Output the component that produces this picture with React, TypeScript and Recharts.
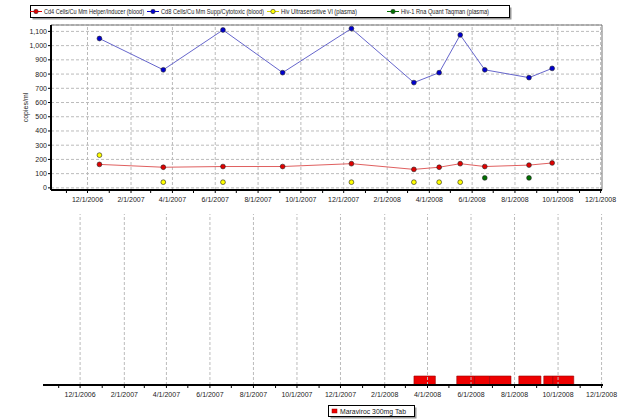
// External imports
import {
    LineChart,
    Line,
    XAxis,
    YAxis,
    CartesianGrid,
    ReferenceLine,
    ReferenceArea,
    ComposedChart,
} from 'recharts';

// Lab visit dates (CD4 / CD8 panels)
const visitDates = [
    '2006-12-18', '2007-03-19', '2007-06-12', '2007-09-05', '2007-12-12',
    '2008-03-10', '2008-04-15', '2008-05-15', '2008-06-19', '2008-08-21', '2008-09-23',
];
const cd4Values = [165, 145, 150, 150, 170, 130, 145, 170, 150, 160, 175];
const cd8Values = [1050, 830, 1110, 810, 1120, 740, 810, 1075, 830, 775, 840];

const vlDates = [
    '2006-12-18', '2007-03-19', '2007-06-12', '2007-12-12', '2008-03-10', '2008-04-15', '2008-05-15',
];
const vlValues = [230, 40, 40, 40, 40, 40, 40];

const taqmanDates = ['2008-06-19', '2008-08-21'];
const taqmanValues = [70, 70];

// Maraviroc 300mg Tab prescriptions
const rxStarts = ['2008-03-13', '2008-05-12', '2008-06-06', '2008-06-27', '2008-08-07', '2008-09-11', '2008-09-24'];
const rxEnds = ['2008-04-12', '2008-06-06', '2008-06-27', '2008-07-27', '2008-09-07', '2008-09-24', '2008-10-23'];

// Axis labels
const tickLabels = [
    '2006-12-01', '2007-02-01', '2007-04-01', '2007-06-01', '2007-08-01', '2007-10-01', '2007-12-01',
    '2008-02-01', '2008-04-01', '2008-06-01', '2008-08-01', '2008-10-01', '2008-12-01',
];
const yTicks = [0, 100, 200, 300, 400, 500, 600, 700, 800, 900, 1000, 1100];

const toTime = (s: string) => Date.parse(s + 'T00:00:00Z');
const X_DOMAIN = [toTime('2006-10-10'), toTime('2008-12-03')];
const Y_DOMAIN = [-15, 1145];

const majorTicks = tickLabels.map(toTime);
const monthTicks: number[] = [];
for (let i = 0; i < 26; i++) {
    const t = Date.UTC(2006, 10 + i, 1);
    if (t > X_DOMAIN[1]) break;
    monthTicks.push(t);
}

const toSeries = (dates: string[], values: number[]) =>
    dates.map((d, i) => ({ t: toTime(d), v: values[i] }));

const cd4Data = toSeries(visitDates, cd4Values);
const cd8Data = toSeries(visitDates, cd8Values);
const vlData = toSeries(vlDates, vlValues);
const taqmanData = toSeries(taqmanDates, taqmanValues);
const rxData = rxStarts.map((s, i) => ({ start: toTime(s), end: toTime(rxEnds[i]), lane: 0 }));

const FONT = '"Liberation Sans", Arial, sans-serif';
const TEXT = '#222';

const fmtDate = (t: number) => {
    const d = new Date(t);
    return `${d.getUTCMonth() + 1}/${d.getUTCDate()}/${d.getUTCFullYear()}`;
};

const DateTick = (props: any) => {
    const { x, y, payload } = props;
    const major = majorTicks.includes(payload.value);
    return (
        <g>
            <line x1={x} x2={x} y1={y} y2={y + 3} stroke="#000" />
            {major && (
                <text x={x} y={y + 11.5} textAnchor="middle" fontSize={7} fill={TEXT} fontFamily={FONT}>
                    {fmtDate(payload.value)}
                </text>
            )}
        </g>
    );
};

const YLabel = ({ viewBox }: any) => {
    const cx = viewBox.x + 4;
    const cy = viewBox.y + viewBox.height / 2;
    return (
        <text
            x={cx}
            y={cy}
            transform={`rotate(-90 ${cx} ${cy})`}
            textAnchor="middle"
            dominantBaseline="central"
            fontSize={7}
            fill={TEXT}
            fontFamily={FONT}
        >
            copies/ml
        </text>
    );
};

const legendItems = [
    { name: 'Cd4 Cells/Cu Mm Helper/Inducer (blood)', color: '#e00000', line: '#e00000', x: 30, w: 100 },
    { name: 'Cd8 Cells/Cu Mm Supp/Cytotoxic (blood)', color: '#0000d0', line: '#0000d0', x: 147, w: 103 },
    { name: 'Hiv Ultrasensitive Vl (plasma)', color: '#ffff00', line: '#d8d800', x: 267, w: 76 },
    { name: 'Hiv-1 Rna Quant Taqman (plasma)', color: '#007000', line: '#007000', x: 387, w: 88 },
];

const dot = (fill: string) => ({ r: 2.4, fill, stroke: '#222', strokeWidth: 0.6 });

const App = () => {
    return (
        <div style={{ position: 'absolute', left: 0, top: 0, width: 618, height: 419, background: '#fff', fontFamily: FONT }}>
            <div style={{ position: 'absolute', left: 0, top: 0 }}>
                <LineChart width={618} height={210} margin={{ top: 25, right: 16, left: 21, bottom: 0 }}>
                    <CartesianGrid vertical={false} strokeDasharray="3 2" stroke="#bbb" />
                    {majorTicks.map((t) => (
                        <ReferenceLine key={t} x={t} stroke="#bbb" strokeDasharray="3 2" />
                    ))}
                    <ReferenceLine y={Y_DOMAIN[1]} stroke="#777" />
                    <ReferenceLine x={X_DOMAIN[1]} stroke="#777" />
                    <XAxis
                        type="number"
                        dataKey="t"
                        domain={X_DOMAIN}
                        ticks={monthTicks}
                        interval={0}
                        allowDataOverflow
                        height={20}
                        tickLine={false}
                        tickSize={0}
                        tickMargin={0}
                        tick={<DateTick />}
                        axisLine={{ stroke: '#000', strokeWidth: 2 }}
                    />
                    <YAxis
                        type="number"
                        domain={Y_DOMAIN}
                        ticks={yTicks}
                        interval={0}
                        allowDataOverflow
                        width={30}
                        tickSize={3}
                        tickMargin={1}
                        tickFormatter={(v: number) => v.toLocaleString('en-US')}
                        tick={{ fontSize: 7, fill: TEXT, fontFamily: FONT }}
                        tickLine={{ stroke: '#000' }}
                        axisLine={{ stroke: '#000', strokeWidth: 2 }}
                        label={<YLabel />}
                    />
                    <Line data={cd4Data} dataKey="v" stroke="#e06060" strokeWidth={1} dot={dot('#e00000')} isAnimationActive={false} />
                    <Line data={cd8Data} dataKey="v" stroke="#6666cc" strokeWidth={1} dot={dot('#0000d0')} isAnimationActive={false} />
                    <Line data={vlData} dataKey="v" stroke="none" dot={dot('#ffff00')} isAnimationActive={false} />
                    <Line data={taqmanData} dataKey="v" stroke="none" dot={dot('#007000')} isAnimationActive={false} />
                </LineChart>
            </div>

            <div style={{ position: 'absolute', left: 0, top: 200 }}>
                <ComposedChart width={618} height={205} data={rxData} margin={{ top: 14, right: 15, left: 43, bottom: 0 }}>
                    {majorTicks.map((t) => (
                        <ReferenceLine key={t} x={t} stroke="#bbb" strokeDasharray="3 2" />
                    ))}
                    <XAxis
                        type="number"
                        dataKey="start"
                        domain={X_DOMAIN}
                        ticks={monthTicks}
                        interval={0}
                        allowDataOverflow
                        height={20}
                        tickLine={false}
                        tickSize={0}
                        tickMargin={0}
                        tick={<DateTick />}
                        axisLine={{ stroke: '#000', strokeWidth: 2 }}
                    />
                    <YAxis type="number" domain={[0, 19]} allowDataOverflow hide />
                    <Line dataKey="lane" stroke="none" dot={false} isAnimationActive={false} />
                    {rxData.map((r) => (
                        <ReferenceArea
                            key={r.start}
                            x1={r.start}
                            x2={r.end}
                            y1={0}
                            y2={1}
                            ifOverflow="visible"
                            fill="#ee0000"
                            fillOpacity={1}
                            stroke="#990000"
                            strokeWidth={0.6}
                        />
                    ))}
                </ComposedChart>
            </div>

            {/* legends */}
            <svg width={618} height={419} style={{ position: 'absolute', left: 0, top: 0, pointerEvents: 'none' }}>
                <rect x={32.5} y={7.5} width={479} height={12} fill="#999" />
                <rect x={30.5} y={5.5} width={479} height={12} fill="#fff" stroke="#000" />
                {legendItems.map((it) => (
                    <g key={it.name}>
                        <line x1={it.x} x2={it.x + 12} y1={11.5} y2={11.5} stroke={it.line} />
                        <circle cx={it.x + 6} cy={11.5} r={2.2} fill={it.color} stroke="#333" strokeWidth={0.6} />
                        <text
                            x={it.x + 14}
                            y={14}
                            fontSize={6.3}
                            fill={TEXT}
                            fontFamily={FONT}
                            textLength={it.w}
                            lengthAdjust="spacingAndGlyphs"
                        >
                            {it.name}
                        </text>
                    </g>
                ))}

                <rect x={330.5} y={407.5} width={86} height={11} fill="#999" />
                <rect x={328.5} y={405.5} width={86} height={11} fill="#fff" stroke="#000" />
                <rect x={332} y={409} width={5} height={4} fill="#ee0000" stroke="#900" strokeWidth={0.5} />
                <text x={340} y={414} fontSize={7} fill={TEXT} fontFamily={FONT} textLength={66} lengthAdjust="spacingAndGlyphs">
                    Maraviroc 300mg Tab
                </text>
            </svg>
        </div>
    );
};

export default App;
